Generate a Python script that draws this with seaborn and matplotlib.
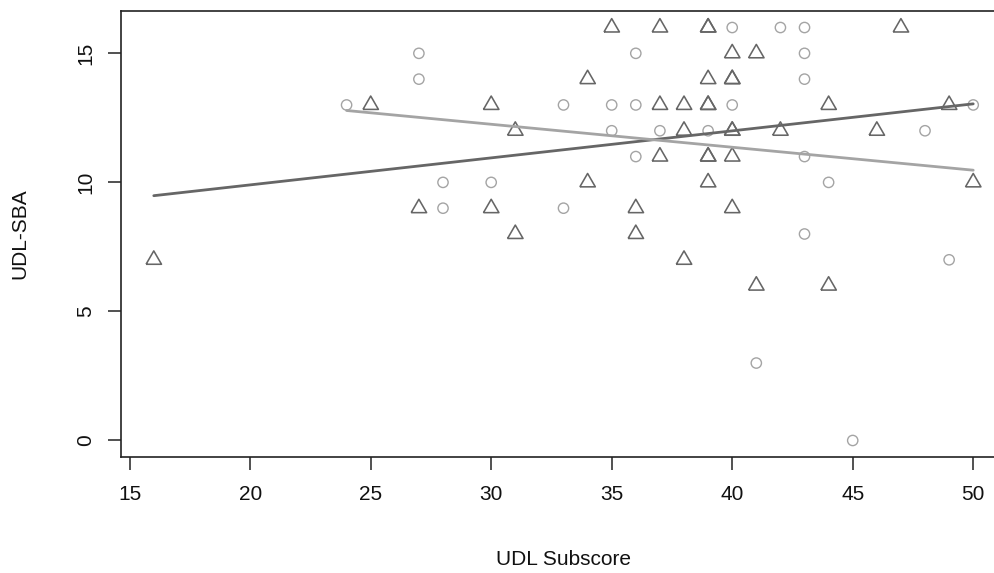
import numpy as np
import pandas as pd
import matplotlib
matplotlib.use("Agg")
import matplotlib.pyplot as plt
import seaborn as sns

# group drawn with open circles (light grey)
circle_x = [24, 27, 27, 28, 28, 30, 33, 33, 35, 35, 36, 36, 36, 37, 39, 40, 40,
            41, 42, 43, 43, 43, 43, 43, 44, 45, 48, 49, 50]
circle_y = [13, 15, 14, 10, 9, 10, 13, 9, 13, 12, 15, 13, 11, 12, 12, 16, 13,
            3, 16, 16, 15, 14, 11, 8, 10, 0, 12, 7, 13]

# group drawn with open triangles (dark grey)
tri_x = [16, 25, 27, 30, 30, 31, 31, 34, 34, 35, 36, 36, 37, 37, 37, 38, 38, 38,
         39, 39, 39, 39, 39, 39, 39, 39, 40, 40, 40, 40, 40, 40, 40,
         41, 41, 42, 44, 44, 46, 47, 49, 50]
tri_y = [7, 13, 9, 13, 9, 12, 8, 14, 10, 16, 9, 8, 16, 13, 11, 13, 12, 7,
         16, 16, 14, 13, 13, 11, 11, 10, 15, 14, 14, 12, 12, 11, 9,
         15, 6, 12, 13, 6, 12, 16, 13, 10]

circles = pd.DataFrame({"x": circle_x, "y": circle_y})
triangles = pd.DataFrame({"x": tri_x, "y": tri_y})

sns.set_style("white")
plt.rcParams["font.family"] = ["Liberation Sans", "DejaVu Sans"]

fig = plt.figure(figsize=(9.95, 5.73), dpi=100)
ax = fig.add_axes([121 / 995, 116 / 573, 885 / 995, 446 / 573])

light = "#a4a4a4"
dark = "#666666"
# equilateral open triangle like R's pch = 2
tri_marker = [(-1, -0.5774), (1, -0.5774), (0, 1.1547), (-1, -0.5774)]

sns.scatterplot(data=circles, x="x", y="y", ax=ax, marker="o", s=55,
                facecolors="none", edgecolor=light, linewidth=1.0, zorder=3)
sns.scatterplot(data=triangles, x="x", y="y", ax=ax, marker=tri_marker, s=165,
                facecolors="none", edgecolor=dark, linewidth=1.15, zorder=3)

sns.regplot(data=triangles, x="x", y="y", ax=ax, scatter=False, ci=None,
            color=dark, line_kws={"linewidth": 2.0, "zorder": 4})
sns.regplot(data=circles, x="x", y="y", ax=ax, scatter=False, ci=None,
            color=light, line_kws={"linewidth": 2.0, "zorder": 4})

ax.set_xlim(14.64, 51.36)
ax.set_ylim(-0.64, 16.64)
ax.set_xticks([15, 20, 25, 30, 35, 40, 45, 50])
ax.set_yticks([0, 5, 10, 15])
for s in ax.spines.values():
    s.set_color("#222222")
    s.set_linewidth(1.2)
ax.spines["right"].set_visible(False)
ax.tick_params(axis="both", direction="out", length=9.5, width=1.1,
               color="#222222", labelsize=15, labelcolor="#111111",
               bottom=True, left=True)
ax.tick_params(axis="x", pad=11)
ax.tick_params(axis="y", labelrotation=90, pad=9)
for lab in ax.get_yticklabels():
    lab.set_va("center")

ax.set_xlabel("UDL Subscore", fontsize=15, color="#111111", labelpad=33)
ax.set_ylabel("UDL-SBA", fontsize=15, color="#111111", labelpad=34)

fig.savefig("out.png", dpi=100)
